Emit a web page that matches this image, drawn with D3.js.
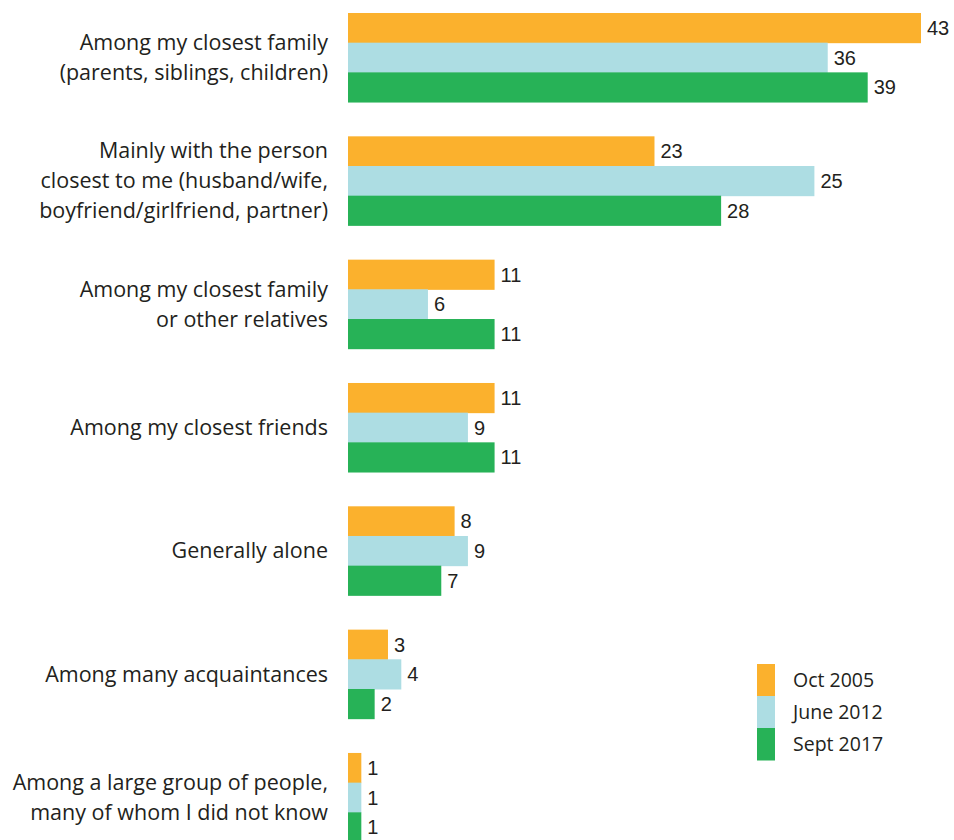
<!DOCTYPE html>
<html>
<head>
<meta charset="utf-8">
<script src="https://cdn.jsdelivr.net/npm/d3@7"></script>
<style>
  body { margin: 0; background: #fff; }
  svg { display: block; }
</style>
</head>
<body>
<div id="chart"></div>
<script>
// Chart data
const categories = [
    ["Among my closest family", "(parents, siblings, children)"],
    ["Mainly with the person", "closest to me (husband/wife,", "boyfriend/girlfriend, partner)"],
    ["Among my closest family", "or other relatives"],
    ["Among my closest friends"],
    ["Generally alone"],
    ["Among many acquaintances"],
    ["Among a large group of people,", "many of whom I did not know"]
];
const seriesNames = ["Oct 2005", "June 2012", "Sept 2017"];
// bar lengths as drawn in the original (its June 2012 "25" bar is drawn ~35 long)
const oct2005 = [43, 23, 11, 11, 8, 3, 1];
const june2012 = [36, 35, 6, 9, 9, 4, 1];
const sept2017 = [39, 28, 11, 11, 7, 2, 1];
// printed value labels
const june2012Printed = [36, 25, 6, 9, 9, 4, 1];
const colors = ["#fbb12d", "#addde3", "#27b257"];

const width = 954, height = 840;
const series = [oct2005, june2012, sept2017];
const printed = [oct2005, june2012Printed, sept2017];

const svg = d3.select("#chart")
    .append("svg")
    .attr("width", width)
    .attr("height", height);

const x = d3.scaleLinear().domain([0, 43]).range([348, 921]);

const y = d3.scaleBand()
    .domain(d3.range(categories.length))
    .range([13, 842])
    .paddingInner(0.278)
    .paddingOuter(0);

const ySub = d3.scaleBand()
    .domain(d3.range(seriesNames.length))
    .range([0, y.bandwidth()]);

const groups = svg.selectAll("g.group")
    .data(categories)
    .enter()
    .append("g")
    .attr("class", "group")
    .attr("transform", (d, i) => `translate(0, ${y(i)})`);

// Bars and value labels
groups.each(function (cat, i) {
    const g = d3.select(this);
    series.forEach((s, j) => {
        g.append("rect")
            .attr("x", x(0))
            .attr("y", ySub(j))
            .attr("width", x(s[i]) - x(0))
            .attr("height", ySub.bandwidth() + 0.5)
            .attr("fill", colors[j]);

        g.append("text")
            .attr("x", x(s[i]) + 6)
            .attr("y", ySub(j) + ySub.bandwidth() / 2)
            .attr("dy", "0.36em")
            .style("font-family", "'Liberation Sans', Arial, sans-serif")
            .style("font-size", "20px")
            .style("fill", "#231f20")
            .text(printed[j][i]);
    });

    // Category label, centred on the group
    const lineH = 30;
    const n = cat.length;
    const label = g.append("text")
        .attr("text-anchor", "end")
        .style("font-family", "'Open Sans', sans-serif")
        .style("font-size", "21.5px")
        .style("fill", "#231f20");
    cat.forEach((line, k) => {
        label.append("tspan")
            .attr("x", 328)
            .attr("y", y.bandwidth() / 2 + (k - (n - 1) / 2) * lineH)
            .attr("dy", "0.35em")
            .text(line);
    });
});

// Legend
const legend = svg.append("g").attr("transform", "translate(757, 664)");
seriesNames.forEach((name, j) => {
    legend.append("rect")
        .attr("x", 0)
        .attr("y", j * 32)
        .attr("width", 18)
        .attr("height", 32.5)
        .attr("fill", colors[j]);
    legend.append("text")
        .attr("x", 36)
        .attr("y", j * 32 + 16)
        .attr("dy", "0.35em")
        .style("font-family", "'Open Sans', sans-serif")
        .style("font-size", "19.5px")
        .style("fill", "#231f20")
        .text(name);
});
</script>
</body>
</html>
